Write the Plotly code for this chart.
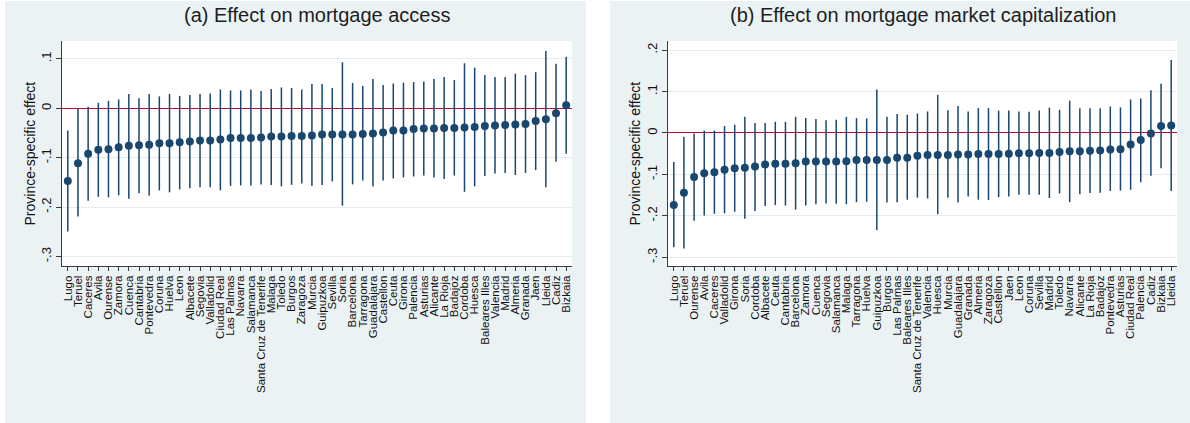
import plotly.graph_objects as go

# ---- Panel (a): effect on mortgage access ----
provinces_a = [
    "Lugo", "Teruel", "Caceres", "Avila", "Ourense", "Zamora", "Cuenca", "Cantabria",
    "Pontevedra", "Coruna", "Huelva", "Leon", "Albacete", "Segovia", "Valladolid",
    "Ciudad Real", "Las Palmas", "Navarra", "Salamanca", "Santa Cruz de Tenerife",
    "Malaga", "Toledo", "Burgos", "Zaragoza", "Murcia", "Guipuzkoa", "Sevilla", "Soria",
    "Barcelona", "Tarragona", "Guadalajara", "Castellon", "Ceuta", "Girona", "Palencia",
    "Asturias", "Alicante", "La Rioja", "Badajoz", "Cordoba", "Huesca", "Baleares Illes",
    "Valencia", "Madrid", "Almeria", "Granada", "Jaen", "Lleida", "Cadiz", "Bizkaia",
]
effect_a = [
    -0.147, -0.111, -0.092, -0.084, -0.083, -0.079, -0.076, -0.075, -0.074, -0.071,
    -0.071, -0.069, -0.067, -0.065, -0.065, -0.063, -0.060, -0.060, -0.060, -0.059,
    -0.057, -0.057, -0.056, -0.056, -0.055, -0.053, -0.053, -0.053, -0.053, -0.052,
    -0.051, -0.049, -0.045, -0.045, -0.042, -0.041, -0.041, -0.040, -0.040, -0.039,
    -0.038, -0.036, -0.035, -0.034, -0.033, -0.032, -0.026, -0.022, -0.010, 0.006,
]
lower_a = [
    -0.249, -0.219, -0.187, -0.179, -0.180, -0.176, -0.183, -0.172, -0.177, -0.166,
    -0.170, -0.164, -0.162, -0.160, -0.160, -0.166, -0.157, -0.156, -0.156, -0.154,
    -0.155, -0.158, -0.155, -0.152, -0.157, -0.155, -0.148, -0.197, -0.154, -0.146,
    -0.158, -0.146, -0.142, -0.140, -0.138, -0.136, -0.140, -0.143, -0.136, -0.169,
    -0.158, -0.137, -0.132, -0.131, -0.135, -0.131, -0.125, -0.160, -0.108, -0.092,
]
upper_a = [
    -0.045, -0.001, 0.003, 0.011, 0.015, 0.018, 0.029, 0.020, 0.029, 0.024,
    0.029, 0.025, 0.027, 0.029, 0.030, 0.038, 0.036, 0.036, 0.038, 0.035,
    0.039, 0.042, 0.041, 0.038, 0.049, 0.049, 0.041, 0.093, 0.051, 0.045,
    0.059, 0.047, 0.050, 0.052, 0.053, 0.054, 0.059, 0.063, 0.057, 0.091,
    0.082, 0.067, 0.063, 0.063, 0.070, 0.067, 0.073, 0.116, 0.090, 0.104,
]

# ---- Panel (b): effect on mortgage market capitalization ----
provinces_b = [
    "Lugo", "Teruel", "Ourense", "Avila", "Caceres", "Valladolid", "Girona", "Soria",
    "Cordoba", "Albacete", "Ceuta", "Cantabria", "Barcelona", "Zamora", "Cuenca",
    "Segovia", "Salamanca", "Malaga", "Tarragona", "Huelva", "Guipuzkoa", "Burgos",
    "Las Palmas", "Baleares Illes", "Santa Cruz de Tenerife", "Valencia", "Huesca",
    "Murcia", "Guadalajara", "Granada", "Almeria", "Zaragoza", "Castellon", "Jaen",
    "Leon", "Coruna", "Sevilla", "Madrid", "Toledo", "Navarra", "Alicante", "La Rioja",
    "Badajoz", "Pontevedra", "Asturias", "Ciudad Real", "Palencia", "Cadiz", "Bizkaia",
    "Lleida",
]
effect_b = [
    -0.174, -0.144, -0.106, -0.097, -0.095, -0.089, -0.085, -0.084, -0.081, -0.076,
    -0.074, -0.074, -0.073, -0.069, -0.069, -0.069, -0.069, -0.068, -0.065, -0.065,
    -0.065, -0.065, -0.060, -0.060, -0.055, -0.053, -0.053, -0.053, -0.052, -0.052,
    -0.051, -0.051, -0.051, -0.050, -0.049, -0.049, -0.048, -0.048, -0.046, -0.044,
    -0.044, -0.043, -0.042, -0.040, -0.039, -0.028, -0.017, -0.001, 0.017, 0.018,
]
lower_b = [
    -0.276, -0.279, -0.212, -0.199, -0.195, -0.194, -0.190, -0.207, -0.188, -0.176,
    -0.174, -0.175, -0.185, -0.175, -0.172, -0.170, -0.171, -0.172, -0.167, -0.166,
    -0.234, -0.168, -0.167, -0.161, -0.156, -0.158, -0.196, -0.156, -0.168, -0.153,
    -0.161, -0.162, -0.155, -0.153, -0.149, -0.149, -0.149, -0.157, -0.146, -0.167,
    -0.148, -0.145, -0.144, -0.140, -0.139, -0.137, -0.119, -0.103, -0.085, -0.140,
]
upper_b = [
    -0.070, -0.009, -0.001, 0.006, 0.006, 0.017, 0.020, 0.039, 0.024, 0.024,
    0.027, 0.027, 0.039, 0.036, 0.034, 0.031, 0.032, 0.039, 0.036, 0.035,
    0.105, 0.039, 0.046, 0.044, 0.047, 0.052, 0.092, 0.055, 0.065, 0.052,
    0.060, 0.060, 0.054, 0.054, 0.052, 0.051, 0.054, 0.061, 0.056, 0.078,
    0.060, 0.060, 0.060, 0.064, 0.062, 0.081, 0.083, 0.103, 0.119, 0.176,
]

ticks_a = [0.1, 0.0, -0.1, -0.2, -0.3]
ticklabels_a = [".1", "0", "-.1", "-.2", "-.3"]
ticks_b = [0.2, 0.1, 0.0, -0.1, -0.2, -0.3]
ticklabels_b = [".2", ".1", "0", "-.1", "-.2", "-.3"]

titles = ["(a) Effect on mortgage access", "(b) Effect on mortgage market capitalization"]
y_title = "Province-specific effect"

NAVY = "#1a476f"
RED = "#c10534"
PANEL = "#eaf2f3"
GRID = "#e4ecee"
AXIS = "#3c3c3c"
FONT = "Liberation Sans, Arial, sans-serif"
W, H = 1190, 423


def px_x(v):
    return v / W


def px_y(v):
    return 1 - v / H


def ci_trace(names, est, lo, hi, xa, ya):
    return go.Scatter(
        x=names, y=est, mode="markers", xaxis=xa, yaxis=ya,
        marker=dict(size=8, color=NAVY, line=dict(width=0)),
        error_y=dict(
            type="data", symmetric=False,
            array=[h - e for h, e in zip(hi, est)],
            arrayminus=[e - l for e, l in zip(est, lo)],
            thickness=1.5, width=0, color=NAVY,
        ),
        hoverinfo="x+y", showlegend=False,
    )


fig = go.Figure()
fig.add_trace(ci_trace(provinces_a, effect_a, lower_a, upper_a, "x", "y"))
fig.add_trace(ci_trace(provinces_b, effect_b, lower_b, upper_b, "x2", "y2"))

xcommon = dict(
    type="category", tickangle=-90, ticks="outside", ticklen=4, tickwidth=1,
    tickcolor=AXIS, showline=True, linecolor=AXIS, linewidth=1, showgrid=False,
    zeroline=False, tickfont=dict(family=FONT, size=11.5, color="#111"),
    range=[-0.57, 49.57], fixedrange=True, tickmode="array",
)
ycommon = dict(
    tickangle=-90, ticks="outside", ticklen=5, tickwidth=1, tickcolor=AXIS,
    showline=True, linecolor=AXIS, linewidth=1, showgrid=True, gridcolor=GRID,
    gridwidth=1, zeroline=True, zerolinecolor=RED, zerolinewidth=1.3,
    tickfont=dict(family=FONT, size=13, color="#111"), fixedrange=True,
)

fig.update_layout(
    width=W, height=H,
    margin=dict(l=0, r=0, t=0, b=0),
    paper_bgcolor=PANEL, plot_bgcolor="white",
    font=dict(family=FONT, color="#111"),
    xaxis=dict(xcommon, domain=[px_x(62), px_x(572)], anchor="y",
               categoryorder="array", categoryarray=provinces_a,
               tickvals=provinces_a, ticktext=provinces_a),
    yaxis=dict(ycommon, domain=[px_y(266), px_y(41)], anchor="x",
               range=[-0.319, 0.136], tickvals=ticks_a, ticktext=ticklabels_a),
    xaxis2=dict(xcommon, domain=[px_x(668), px_x(1177)], anchor="y2",
                categoryorder="array", categoryarray=provinces_b,
                tickvals=provinces_b, ticktext=provinces_b),
    yaxis2=dict(ycommon, domain=[px_y(266), px_y(41)], anchor="x2",
                range=[-0.321, 0.222], tickvals=ticks_b, ticktext=ticklabels_b),
    shapes=[
        # white margins separating the two graph panels
        dict(type="rect", xref="paper", yref="paper", x0=0, x1=px_x(5), y0=0, y1=1,
             fillcolor="white", line=dict(width=0), layer="below"),
        dict(type="rect", xref="paper", yref="paper", x0=px_x(586), x1=px_x(610), y0=0, y1=1,
             fillcolor="white", line=dict(width=0), layer="below"),
        dict(type="rect", xref="paper", yref="paper", x0=0, x1=1, y0=px_y(1), y1=1,
             fillcolor="white", line=dict(width=0), layer="below"),
    ],
    annotations=[
        dict(text=titles[0], xref="paper", yref="paper", x=px_x(317), y=px_y(15),
             xanchor="center", yanchor="middle", showarrow=False,
             font=dict(family=FONT, size=20, color="#1e1e1e")),
        dict(text=titles[1], xref="paper", yref="paper", x=px_x(922.5), y=px_y(15),
             xanchor="center", yanchor="middle", showarrow=False,
             font=dict(family=FONT, size=20, color="#1e1e1e")),
        dict(text=y_title, xref="paper", yref="paper", x=px_x(29), y=px_y(153.5),
             xanchor="center", yanchor="middle", textangle=-90, showarrow=False,
             font=dict(family=FONT, size=14, color="#111")),
        dict(text=y_title, xref="paper", yref="paper", x=px_x(634), y=px_y(153.5),
             xanchor="center", yanchor="middle", textangle=-90, showarrow=False,
             font=dict(family=FONT, size=14, color="#111")),
    ],
)

fig.write_html("out.html")
